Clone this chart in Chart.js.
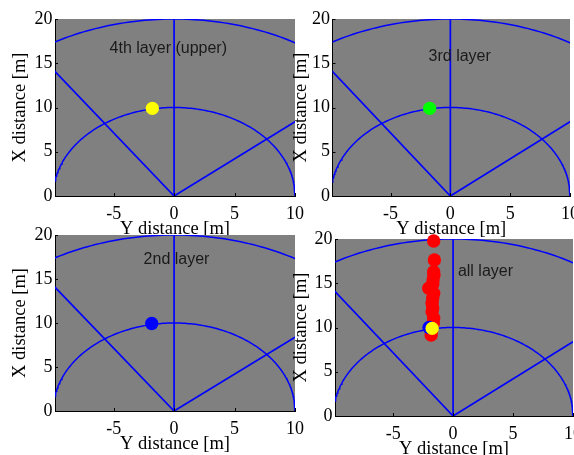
<!DOCTYPE html>
<html><head><meta charset="utf-8">
<script src="https://cdn.jsdelivr.net/npm/chart.js@4/dist/chart.umd.min.js"></script>
<style>
html,body{margin:0;padding:0;background:#fff;overflow:hidden;width:574px;height:455px;position:relative;}
.pan{position:absolute;}
canvas{display:block;}
</style></head><body>
<div id="p0" class="pan"><canvas id="c0"></canvas></div>
<div id="p1" class="pan"><canvas id="c1"></canvas></div>
<div id="p2" class="pan"><canvas id="c2"></canvas></div>
<div id="p3" class="pan"><canvas id="c3"></canvas></div>
<script>
// ---- data ----
const X_TICKS = [-5, 0, 5, 10];
const Y_TICKS = [0, 5, 10, 15, 20];
const X_MIN = -9.85, X_MAX = 10, Y_MIN = 0, Y_MAX = 20;
const RANGE_RADII = [10, 20];          // coverage arcs [m]
const BEAM_ANGLES_DEG = [-35, 0, 50];  // beam directions from the X axis
const PANEL_TITLES = ['4th layer (upper)', '3rd layer', '2nd layer', 'all layer'];
const X_TITLE = 'Y distance [m]';
const Y_TITLE = 'X distance [m]';

const L4_X = [-1.8], L4_Y = [9.9];
const L3_X = [-1.73], L3_Y = [9.9];
const L2_X = [-1.85], L2_Y = [9.95];
const ALL_RED_X = [-1.62, -1.56, -1.62, -1.6, -1.67, -1.7, -2.03, -1.62, -1.7, -1.75, -1.7, -1.75, -1.62, -1.65, -1.8, -1.83];
const ALL_RED_Y = [19.77, 17.63, 16.3, 15.9, 15.37, 14.9, 14.43, 13.86, 13.3, 12.73, 12.2, 11.79, 11.04, 10.5, 9.6, 9.15];
const ALL_BLUE_X = [-2.0], ALL_BLUE_Y = [10.0];
const ALL_YEL_X = [-1.75], ALL_YEL_Y = [9.9];

// ---- layout / style ----
// point groups listed bottom-most first
const PANELS = [
  {canvas:[0,0,312,250],   plot:[55,19,295,196],    yTitleX:20,  labelAt:[-0.48,16.6],
   pts:[[L4_X,L4_Y,'#ffff00']]},
  {canvas:[280,0,312,250], plot:[332.5,19,570,196], yTitleX:301, labelAt:[0.78,15.7],
   pts:[[L3_X,L3_Y,'#00ff00']]},
  {canvas:[0,216,312,260], plot:[55,235,295,411],   yTitleX:20.5,labelAt:[0.2,17.2],
   pts:[[L2_X,L2_Y,'#0000ff']]},
  {canvas:[280,216,312,260], plot:[335,239,573,416], yTitleX:301, labelAt:[2.7,16.3],
   pts:[[ALL_RED_X,ALL_RED_Y,'#ff0000'],[ALL_BLUE_X,ALL_BLUE_Y,'#0000ff'],[ALL_YEL_X,ALL_YEL_Y,'#ffff00']]}
];
const SERIF = '"Liberation Serif","Times New Roman",serif';
const SANS = '"Liberation Sans",Arial,sans-serif';
const TITLE_SIZE = 18.5, TICK_SIZE = 18;
const LH = TITLE_SIZE * 1.2;

function arcPoints(r) {
  const pts = [];
  for (let a = -90; a <= 90; a += 1) {
    const t = a * Math.PI / 180;
    pts.push({x: r * Math.sin(t), y: r * Math.cos(t)});
  }
  return pts;
}
function beamPoints(deg) {
  const t = deg * Math.PI / 180;
  return [{x:0, y:0}, {x: 40 * Math.sin(t), y: 40 * Math.cos(t)}];
}

const bgPlugin = {
  id: 'bg',
  beforeDraw(chart) {
    const {ctx, chartArea: a} = chart;
    ctx.save();
    ctx.fillStyle = '#808080';
    ctx.fillRect(a.left, a.top, a.right - a.left, a.bottom - a.top);
    ctx.restore();
  }
};
const tickPlugin = {
  id: 'ticksIn',
  afterDatasetsDraw(chart) {
    const {ctx, chartArea: a} = chart;
    const xs = chart.scales.x, ys = chart.scales.y;
    ctx.save();
    ctx.strokeStyle = '#000'; ctx.lineWidth = 1;
    ctx.beginPath();
    X_TICKS.forEach(v => { const p = Math.round(xs.getPixelForValue(v)) + 0.5; ctx.moveTo(p, a.bottom); ctx.lineTo(p, a.bottom - 3); });
    Y_TICKS.forEach(v => { const p = Math.round(ys.getPixelForValue(v)) + 0.5; ctx.moveTo(a.left, p); ctx.lineTo(a.left + 3, p); });
    ctx.stroke();
    const P = chart.options.plugins.panelInfo;
    ctx.fillStyle = '#1a1a1a';
    ctx.font = '16px ' + SANS;
    ctx.textAlign = 'center'; ctx.textBaseline = 'middle';
    ctx.fillText(P.text, xs.getPixelForValue(P.at[0]), ys.getPixelForValue(P.at[1]));
    ctx.restore();
  }
};

PANELS.forEach((P, i) => {
  const [cx, cy, cw, ch] = P.canvas;
  const [pl, pt, pr, pb] = P.plot;
  const wrap = document.getElementById('p' + i);
  wrap.style.left = cx + 'px'; wrap.style.top = cy + 'px';
  const cv = document.getElementById('c' + i);
  cv.width = cw; cv.height = ch; cv.style.width = cw + 'px'; cv.style.height = ch + 'px';

  const yAxisW = pl - cx;
  const padTop = pt - cy;
  const padRight = cx + cw - pr;
  const xAxisH = cy + ch - pb;
  const xTitlePadBottom = (cy + ch) - LH / 2 - (pb + 32.9);
  const yTitlePadTop = P.yTitleX - cx - LH / 2;

  // Chart.js draws dataset 0 on top, so markers go first (top-most first), lines last.
  const datasets = [];
  P.pts.slice().reverse().forEach(([xs, ys, col]) => datasets.push({
    data: xs.map((x, k) => ({x, y: ys[k]})), showLine: false,
    pointRadius: 6.7, pointBackgroundColor: col, pointBorderWidth: 0, pointBorderColor: col, clip: false
  }));
  BEAM_ANGLES_DEG.forEach(d => datasets.push({data: beamPoints(d), showLine: true, pointRadius: 0, borderColor: '#0000ff', borderWidth: 1.7, fill: false}));
  RANGE_RADII.forEach(r => datasets.push({data: arcPoints(r), showLine: true, pointRadius: 0, borderColor: '#0000ff', borderWidth: 1.5, fill: false}));

  new Chart(cv, {
    type: 'scatter',
    data: {datasets},
    plugins: [bgPlugin, tickPlugin],
    options: {
      responsive: false, animation: false, events: [],
      layout: {padding: {left: 0, top: padTop, right: padRight, bottom: 0}},
      plugins: {legend: {display: false}, tooltip: {enabled: false}, panelInfo: {text: PANEL_TITLES[i], at: P.labelAt}},
      scales: {
        x: {
          type: 'linear', min: X_MIN, max: X_MAX,
          afterBuildTicks: s => { s.ticks = X_TICKS.map(v => ({value: v})); },
          afterFit: s => { s.height = xAxisH; },
          grid: {display: false, drawTicks: false},
          border: {display: true, color: '#000', width: 1},
          ticks: {autoSkip: false, maxRotation: 0, padding: 7, color: '#000', font: {family: SERIF, size: TICK_SIZE}},
          title: {display: true, text: X_TITLE, color: '#000', font: {family: SERIF, size: TITLE_SIZE}, padding: {top: 0, bottom: xTitlePadBottom}}
        },
        y: {
          type: 'linear', min: Y_MIN, max: Y_MAX,
          afterBuildTicks: s => { s.ticks = Y_TICKS.map(v => ({value: v})); },
          afterFit: s => { s.width = yAxisW; },
          grid: {display: false, drawTicks: false},
          border: {display: true, color: '#000', width: 1},
          ticks: {autoSkip: false, padding: 2.5, color: '#000', font: {family: SERIF, size: TICK_SIZE}},
          title: {display: true, text: Y_TITLE, color: '#000', font: {family: SERIF, size: TITLE_SIZE}, padding: {top: yTitlePadTop, bottom: 0}}
        }
      }
    }
  });
});
</script>
</body></html>
